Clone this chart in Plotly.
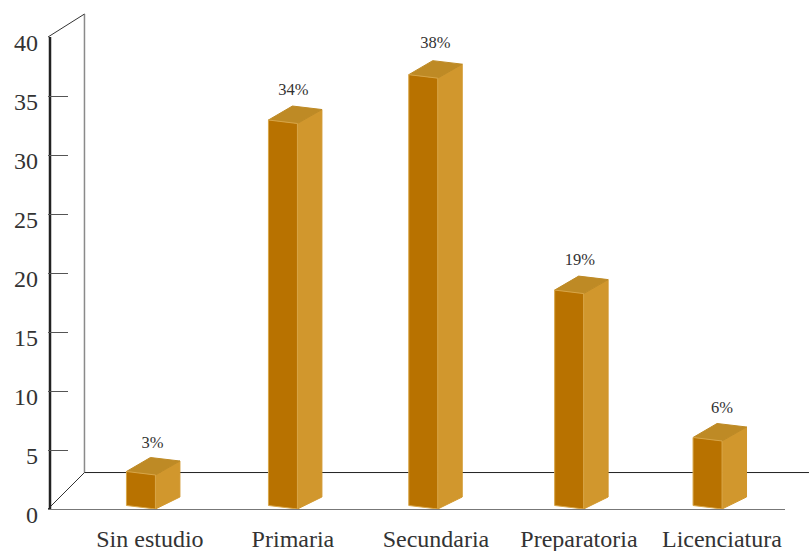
import plotly.graph_objects as go

categories = ["Sin estudio", "Primaria", "Secundaria", "Preparatoria", "Licenciatura"]
percent = [3, 34, 38, 19, 6]
y_ticks = [0, 5, 10, 15, 20, 25, 30, 35, 40]

# chart geometry, in screen pixels
W, H = 809, 551
L, R, T, B = 47.5, 785.0, 37.0, 509.5
PX_X = 143.1                    # pixels per category step
X0 = (149.5 - L) / PX_X         # left padding of the category axis, in steps
PX_BAR = 11.35                  # pixels per unit on the bar plane (set back from the axis)
BAR_W = 29
DEPTH = 24.5
FRONT_SKEW = 3.5
RISE_TOP, RISE_BOTTOM = 14, 12
bar_shift = [-9, -10, -12.7, -9.8, -14.4]
label_nudge = [2.5, 0.5, -0.5, 1, 0]
label_lift = [31.5, 33, 34, 33, 32]

FRONT, SIDE, TOP, EDGE = "#B87200", "#D1972D", "#BE8A25", "#D8A648"
TEXT = "#333333"
FONT = "Liberation Serif"


def dx(p):
    return p / PX_X


def dy(p):
    return p / PX_BAR


def paper_x(p):
    return (p - L) / (R - L)


def paper_y(p):
    return (B - p) / (B - T)


fig = go.Figure()

# the value axis spine, drawn on the tick axis itself
fig.add_trace(go.Scatter(x=[-X0 + dx(2), -X0 + dx(2) + 1e-6], y=[y_ticks[0], y_ticks[-1]],
                         mode="lines", line=dict(color="#222222", width=2.5),
                         hoverinfo="skip", showlegend=False, cliponaxis=False))


def face(xs, ys, color, line):
    fig.add_trace(go.Scatter(
        x=xs + xs[:1], y=ys + ys[:1], mode="lines", fill="toself", fillcolor=color,
        line=dict(color=line, width=1), yaxis="y2", hoverinfo="skip",
        showlegend=False, cliponaxis=False))


for i, v in enumerate(percent):
    cx = i + dx(bar_shift[i])
    xl, xr = cx - dx(BAR_W / 2), cx + dx(BAR_W / 2)
    xb = xr + dx(DEPTH)
    # right face
    face([xr, xb, xb, xr], [0, dy(RISE_BOTTOM), v + dy(RISE_TOP), v], SIDE, SIDE)
    # top face
    face([xl, xl + dx(24), xb, xr],
         [v + dy(FRONT_SKEW), v + dy(RISE_TOP + FRONT_SKEW), v + dy(RISE_TOP), v], TOP, TOP)
    # front face
    face([xl, xr, xr, xl], [dy(FRONT_SKEW), 0, v, v + dy(FRONT_SKEW)], FRONT, EDGE)

fig.add_trace(go.Scatter(
    x=[i + dx(n) for i, n in enumerate(label_nudge)],
    y=[v + dy(g) for v, g in zip(percent, label_lift)],
    text=[f"{v}%" for v in percent], mode="text", textposition="middle center",
    textfont=dict(family=FONT, size=16.5, color=TEXT), yaxis="y2",
    hoverinfo="skip", showlegend=False, cliponaxis=False))

wall = [
    ((84, 14), (84, 473), "#8A8A8A", 1.5),
    ((47.5, T), (84, 14), "#333333", 1),
    ((47.5, B), (84, 473), "#333333", 1),
    ((84, 473), (809, 473), "#222222", 1),
]
shapes = [dict(type="line", xref="paper", yref="paper", layer="below",
               x0=paper_x(a[0]), y0=paper_y(a[1]), x1=paper_x(b[0]), y1=paper_y(b[1]),
               line=dict(color=c, width=w)) for a, b, c, w in wall]

fig.update_layout(
    width=W, height=H, autosize=False,
    margin=dict(l=L, r=W - R, t=T, b=H - B, pad=0, autoexpand=False),
    paper_bgcolor="white", plot_bgcolor="rgba(0,0,0,0)",
    showlegend=False, shapes=shapes,
    xaxis=dict(range=[-X0, -X0 + (R - L) / PX_X], tickmode="array", automargin=False,
               tickvals=list(range(len(categories))), ticktext=categories,
               ticks="", showgrid=False, zeroline=False, showline=True,
               linecolor="#777777", linewidth=1, ticklabelstandoff=8,
               tickfont=dict(family=FONT, size=24, color=TEXT)),
    yaxis=dict(range=[0, 40], tickmode="array", tickvals=y_ticks, automargin=False,
               ticks="inside", ticklen=20, tickcolor="#555555", tickwidth=1,
               showgrid=False, zeroline=False, showline=False,
               ticklabelshift=6, ticklabelstandoff=9,
               tickfont=dict(family=FONT, size=24, color=TEXT)),
    yaxis2=dict(range=[0, (B - T) / PX_BAR], overlaying="y", visible=False),
)

fig.write_html("out.html", config={"displayModeBar": False},
               post_script="document.body.style.margin='0';")
